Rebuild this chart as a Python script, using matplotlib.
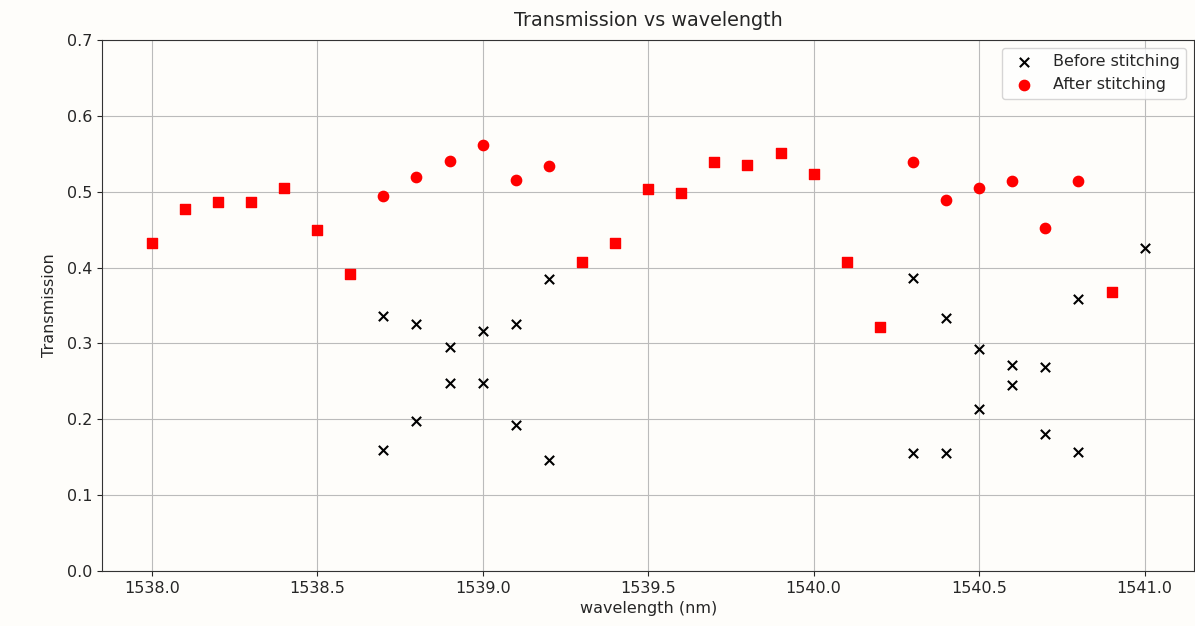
import numpy as np
import matplotlib
matplotlib.use('Agg')
import matplotlib.pyplot as plt

# points where nothing changed (drawn as red squares)
same_wl = [1538.0, 1538.1, 1538.2, 1538.3, 1538.4, 1538.5, 1538.6, 1539.3, 1539.4,
           1539.5, 1539.6, 1539.7, 1539.8, 1539.9, 1540.0, 1540.1, 1540.2, 1540.9]
same_t = [0.432, 0.477, 0.487, 0.486, 0.505, 0.449, 0.391, 0.407, 0.432,
          0.503, 0.498, 0.539, 0.535, 0.551, 0.524, 0.407, 0.321, 0.368]

# before stitching
before_wl = [1538.7, 1538.7, 1538.8, 1538.8, 1538.9, 1538.9, 1539.0, 1539.0, 1539.1, 1539.1,
             1539.2, 1539.2, 1540.3, 1540.3, 1540.4, 1540.4, 1540.5, 1540.5, 1540.6, 1540.6,
             1540.7, 1540.7, 1540.8, 1540.8, 1541.0]
before_t = [0.336, 0.159, 0.325, 0.198, 0.295, 0.248, 0.316, 0.248, 0.325, 0.192,
            0.385, 0.146, 0.386, 0.155, 0.333, 0.155, 0.292, 0.213, 0.271, 0.245,
            0.269, 0.180, 0.358, 0.157, 0.426]

# after stitching
after_wl = [1538.7, 1538.8, 1538.9, 1539.0, 1539.1, 1539.2,
            1540.3, 1540.4, 1540.5, 1540.6, 1540.7, 1540.8]
after_t = [0.494, 0.520, 0.541, 0.561, 0.516, 0.534,
           0.539, 0.489, 0.505, 0.514, 0.452, 0.514]

plt.rcParams['font.size'] = 11.5
plt.rcParams['text.color'] = '#262626'
plt.rcParams['xtick.color'] = '#262626'
plt.rcParams['ytick.color'] = '#262626'
plt.rcParams['axes.labelcolor'] = '#262626'

bg = '#fefdfa'
fig = plt.figure(figsize=(11.95, 6.26), dpi=100, facecolor=bg)
ax = fig.add_axes([0.0854, 0.088, 0.914, 0.848], facecolor=bg)

ax.scatter(before_wl, before_t, marker='x', color='black', s=45, label='Before stitching', zorder=3)
ax.scatter(same_wl, same_t, marker='x', color='black', s=45, zorder=3)
ax.scatter(after_wl, after_t, marker='o', color='red', s=55, label='After stitching', zorder=3)
ax.scatter(same_wl, same_t, marker='s', color='red', s=55, zorder=4)

ax.set_ylim(0, 0.7)
ax.grid(True, color='#bbbbbb')
ax.set_axisbelow(True)
for sp in ax.spines.values():
    sp.set_color('#333333')
ax.set_title('Transmission vs wavelength', fontsize=13.8, pad=10)
ax.set_xlabel('wavelength (nm)')
ax.set_ylabel('Transmission', labelpad=7)
ax.legend(loc='upper right')

fig.savefig('out.png', dpi=100, facecolor=bg)
